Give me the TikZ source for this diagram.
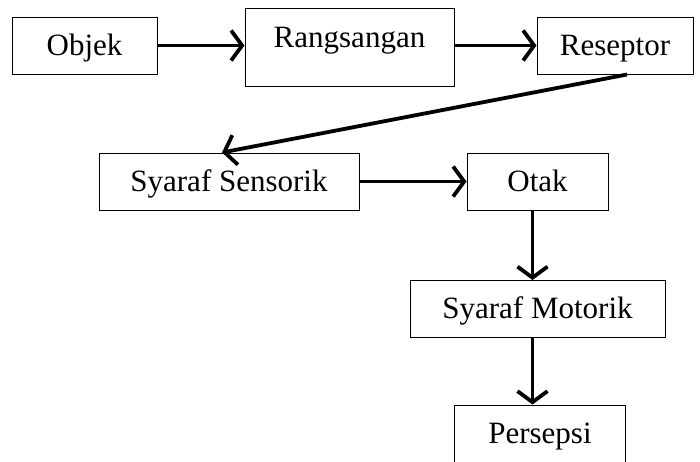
\documentclass[tikz,border=0pt]{standalone}
\usepackage{fontspec}
\setmainfont{Liberation Serif}
\usetikzlibrary{arrows.meta}

\begin{document}
\begin{tikzpicture}
            [x=1pt,y=-1pt,
             b/.style={draw,line width=1pt,inner sep=0pt,
                       font=\fontsize{31}{37}\selectfont,
                       text height=24pt,text depth=5pt,minimum height=57pt},
             ar/.style={line width=3.8pt,-{Straight Barb[length=11pt,width=30pt]}}]
            \useasboundingbox (0,0) rectangle (700,461);
            \node[b,minimum width=145pt](objek) at (84.5,45.5){Objek};
            \node[b,minimum width=209pt,text height=39pt,text depth=39pt](rang) at (349.5,47){Rangsangan};
            \node[b,minimum width=156pt](resep) at (615,45.5){Reseptor};
            \node[b,minimum width=260pt](sens) at (229,181.5){Syaraf Sensorik};
            \node[b,minimum width=141pt](otak) at (537.5,182){Otak};
            \node[b,minimum width=255pt](motor) at (537.5,309){Syaraf Motorik};
            \node[b,minimum width=171pt](persep) at (540,433.5){Persepsi};
            \draw[ar](objek.east) -- (objek.east -| rang.west);
            \draw[ar](rang.east |- resep.west) -- (resep.west);
            \draw[ar]([xshift=12pt]resep.south) -- ([xshift=-7pt]sens.north);
            \draw[ar](sens.east) -- (sens.east -| otak.west);
            \draw[ar]([xshift=-5pt]otak.south) -- ([xshift=-5pt]otak.south |- motor.north);
            \draw[ar]([xshift=-5pt]motor.south) -- ([xshift=-5pt]motor.south |- persep.north);
        \end{tikzpicture}
\end{document}
